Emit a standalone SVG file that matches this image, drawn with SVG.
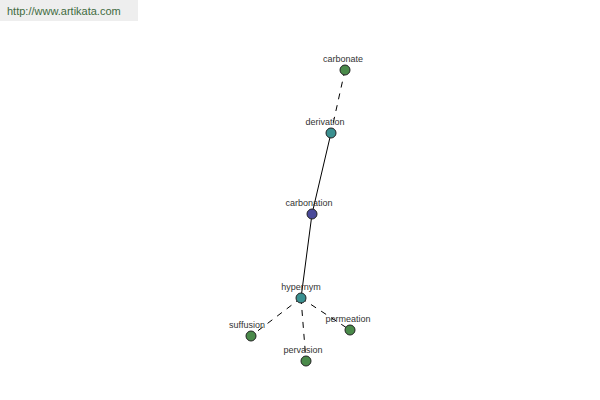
<svg xmlns="http://www.w3.org/2000/svg" width="600" height="400" viewBox="0 0 600 400">
<style>
.lbl{font-family:"Liberation Sans",Arial,sans-serif;font-size:9px;fill:#333;text-anchor:middle}
.n{stroke:#222;stroke-width:1}
.g{fill:#4a8a4a}.t{fill:#3a9090}.b{fill:#4a4a9a}
.e{stroke:#000;stroke-width:1;fill:none}
.d{stroke-dasharray:6,6}
</style>
<rect x="0" y="0" width="600" height="400" fill="#fff"/>
<rect x="0" y="0" width="138" height="21" fill="#eeeeee"/>
<text x="7" y="15" font-family="Liberation Sans,Arial,sans-serif" font-size="11" fill="#3f6b3f">http://www.artikata.com</text>
<g id="connectors">
<line class="e d" x1="345" y1="70" x2="331" y2="133"/>
<line class="e" x1="331" y1="133" x2="312" y2="214"/>
<line class="e" x1="312" y1="214" x2="301" y2="298"/>
<line class="e d" x1="301" y1="298" x2="251" y2="336"/>
<line class="e d" x1="301" y1="298" x2="306" y2="361"/>
<line class="e d" x1="301" y1="298" x2="350" y2="330"/>
</g>
<g id="carbonate"><circle class="n g" cx="345" cy="70" r="5"/><text class="lbl" x="343" y="62">carbonate</text></g>
<g id="derivation"><circle class="n t" cx="331" cy="133" r="5"/><text class="lbl" x="325" y="125">derivation</text></g>
<g id="carbonation"><circle class="n b" cx="312" cy="214" r="5"/><text class="lbl" x="309" y="206">carbonation</text></g>
<g id="hypernym"><circle class="n t" cx="301" cy="298" r="5"/><text class="lbl" x="301" y="290">hypernym</text></g>
<g id="suffusion"><circle class="n g" cx="251" cy="336" r="5"/><text class="lbl" x="247" y="328">suffusion</text></g>
<g id="pervasion"><circle class="n g" cx="306" cy="361" r="5"/><text class="lbl" x="303" y="353">pervasion</text></g>
<g id="permeation"><circle class="n g" cx="350" cy="330" r="5"/><text class="lbl" x="348" y="322">permeation</text></g>
</svg>
